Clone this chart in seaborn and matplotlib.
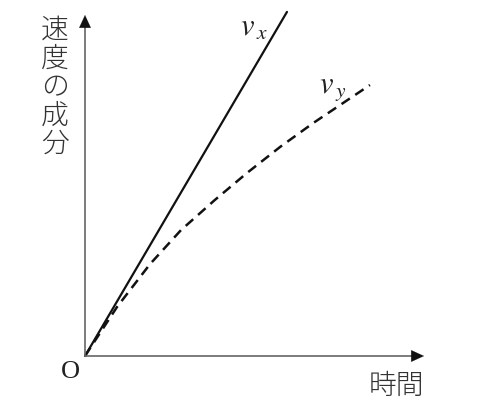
import matplotlib
matplotlib.use("Agg")
import matplotlib.pyplot as plt
import seaborn as sns
import pandas as pd

# data (arbitrary units)
t_vx = [0.0, 5.94]
vx = [0.0, 10.12]
t_vy = [0.0, 0.94, 1.91, 2.82, 3.82, 4.76, 5.74, 6.71, 8.38]
vy = [0.0, 1.44, 2.70, 3.70, 4.59, 5.38, 6.15, 6.85, 7.97]

y_label_chars = ["速", "度", "の", "成", "分"]
x_label = "時間"
origin_label = "O"

sns.set_theme(style="white")
plt.rcParams['font.family'] = ['Noto Sans CJK JP', 'DejaVu Sans']
plt.rcParams['mathtext.fontset'] = 'stix'

W, H = 502, 418
fig = plt.figure(figsize=(W / 100, H / 100), dpi=100)
PX = 34.0
ox, oy = 85, 356
ax = fig.add_axes([ox / W, 1 - oy / H, (445 - ox) / W, (oy - 5) / H])
ax.set_xlim(0, (445 - ox) / PX)
ax.set_ylim(0, (oy - 5) / PX)
ax.axis("off")

df_x = pd.DataFrame({"t": t_vx, "v": vx})
df_y = pd.DataFrame({"t": t_vy, "v": vy})
sns.lineplot(data=df_x, x="t", y="v", ax=ax, color="#111111", lw=1.6,
             sort=False, estimator=None, clip_on=False)
sns.lineplot(data=df_y, x="t", y="v", ax=ax, color="#111111", lw=1.8,
             sort=False, estimator=None, clip_on=False, dashes=False,
             linestyle=(0, (4, 2.6)))

# axes with arrows
xend = (424 - ox) / PX
yend = (oy - 15) / PX
axis_col = "#666666"
ax.plot([0, xend - 0.3], [0, 0], color=axis_col, lw=1.2, clip_on=False)
ax.plot([0, 0], [0, yend - 0.3], color=axis_col, lw=1.2, clip_on=False)
ap = dict(arrowstyle="-|>,head_length=0.65,head_width=0.3", color="#111111",
          lw=0.1, shrinkA=0, shrinkB=0, mutation_scale=14)
ax.annotate("", xy=(xend, 0), xytext=(xend - 0.4, 0), arrowprops=ap,
            annotation_clip=False)
ax.annotate("", xy=(0, yend), xytext=(0, yend - 0.4), arrowprops=ap,
            annotation_clip=False)

# labels
for i, ch in enumerate(y_label_chars):
    fig.text(55 / W, 1 - (30 + i * 28.5) / H, ch, ha="center", va="center",
             fontsize=20, color="#333333", family=['Noto Sans CJK JP'],
             fontweight="light")
fig.text(396 / W, 1 - 386 / H, x_label, ha="center", va="center",
         fontsize=20, color="#333333", family=['Noto Sans CJK JP'],
         fontweight="light")
fig.text(70 / W, 1 - 372 / H, origin_label, ha="center", va="center",
         fontsize=19, color="#222222", family=['Liberation Serif'])
fig.text(254 / W, 1 - 27 / H, r"$v_{\,x}$", ha="center", va="center",
         fontsize=22, color="#222222")
fig.text(333 / W, 1 - 87 / H, r"$v_{\,y}$", ha="center", va="center",
         fontsize=22, color="#222222")

fig.savefig("out.png", dpi=100, facecolor="white")
